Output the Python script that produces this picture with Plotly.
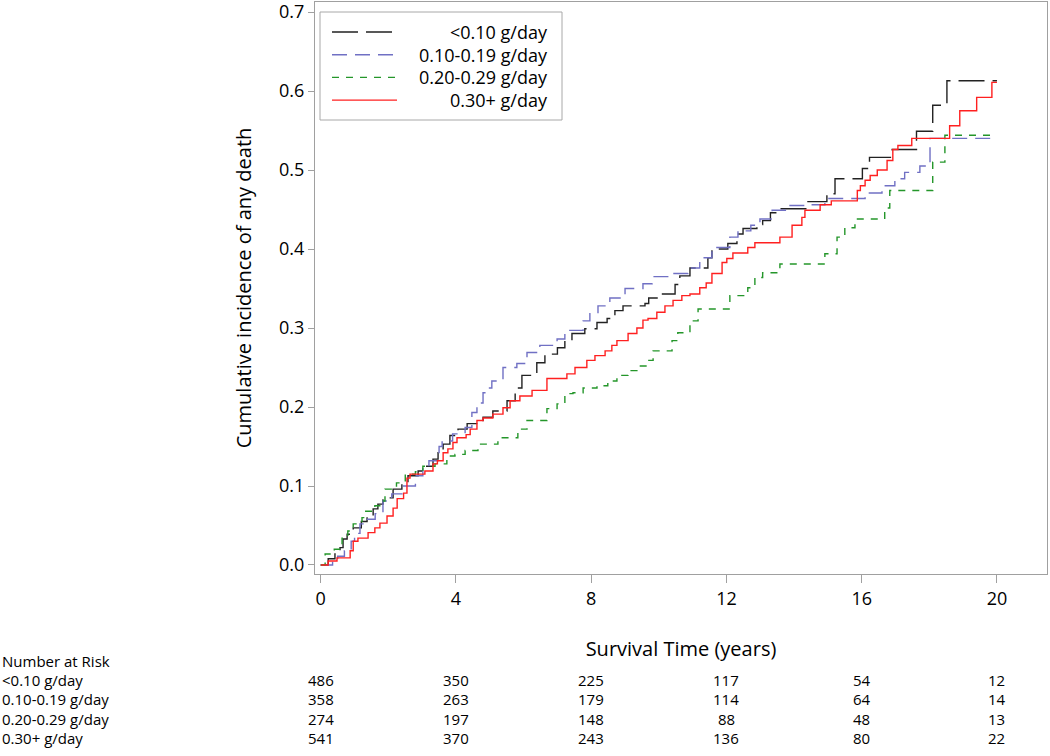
import plotly.graph_objects as go

# cumulative incidence step data (time in years, incidence)
groups = ["<0.10 g/day", "0.10-0.19 g/day", "0.20-0.29 g/day", "0.30+ g/day"]

t_lt010 = [0, 0.22, 0.42, 0.57, 0.66, 0.78, 0.96, 1.20, 1.37, 1.55, 1.69, 1.84, 2.14, 2.40, 2.58,
           2.88, 3.08, 3.32, 3.47, 3.62, 3.82, 4.06, 4.33, 4.80, 5.09, 5.51, 5.75, 5.95, 6.39, 6.63,
           7.00, 7.22, 7.43, 7.81, 8.17, 8.47, 8.70, 8.94, 9.59, 9.70, 9.97, 10.48, 10.62, 10.92,
           11.45, 11.57, 12.04, 12.31, 12.49, 12.90, 13.07, 13.30, 13.58, 14.41, 14.97, 15.21,
           16.02, 16.23, 16.90, 17.62, 18.10, 18.52, 20.0]
y_lt010 = [0, 0.008, 0.014, 0.022, 0.033, 0.039, 0.047, 0.055, 0.062, 0.071, 0.077, 0.085, 0.096,
           0.103, 0.113, 0.119, 0.125, 0.134, 0.142, 0.153, 0.164, 0.172, 0.179, 0.187, 0.195,
           0.208, 0.224, 0.240, 0.256, 0.267, 0.275, 0.284, 0.293, 0.299, 0.307, 0.312, 0.322,
           0.328, 0.331, 0.338, 0.343, 0.355, 0.366, 0.376, 0.389, 0.400, 0.407, 0.419, 0.426,
           0.431, 0.436, 0.446, 0.451, 0.460, 0.470, 0.489, 0.502, 0.516, 0.526, 0.549, 0.582,
           0.613, 0.613]

t_010 = [0, 0.35, 0.50, 0.70, 0.90, 1.00, 1.16, 1.35, 1.61, 1.84, 2.10, 2.40, 2.80, 3.02, 3.20,
         3.50, 3.59, 3.90, 4.27, 4.47, 4.62, 4.80, 4.95, 5.06, 5.39, 5.80, 6.10, 6.48, 6.99, 7.22,
         7.76, 7.96, 8.20, 8.55, 9.00, 9.53, 9.80, 10.33, 10.86, 11.21, 11.57, 12.10, 12.34,
         12.72, 12.99, 13.35, 13.79, 14.47, 14.91, 16.10, 16.60, 16.98, 17.27, 17.72, 18.02, 19.85]
y_010 = [0, 0.005, 0.011, 0.018, 0.030, 0.040, 0.052, 0.058, 0.065, 0.081, 0.090, 0.100, 0.113,
         0.125, 0.132, 0.150, 0.157, 0.166, 0.174, 0.193, 0.205, 0.218, 0.224, 0.233, 0.250,
         0.255, 0.269, 0.278, 0.286, 0.297, 0.309, 0.318, 0.328, 0.338, 0.350, 0.356, 0.365,
         0.369, 0.376, 0.389, 0.402, 0.415, 0.423, 0.430, 0.438, 0.449, 0.455, 0.456, 0.464,
         0.471, 0.480, 0.489, 0.497, 0.505, 0.540, 0.540]

t_020 = [0, 0.13, 0.40, 0.63, 0.80, 0.96, 1.22, 1.31, 1.60, 1.81, 1.90, 2.24, 2.50, 2.80, 3.02,
         3.38, 3.73, 3.97, 4.27, 4.65, 5.24, 5.83, 6.10, 6.69, 6.99, 7.22, 7.46, 7.76, 8.17,
         8.49, 8.76, 9.09, 9.35, 9.65, 9.83, 10.39, 10.56, 10.92, 11.16, 12.10, 12.63, 12.84,
         13.07, 13.58, 14.91, 15.27, 15.50, 15.80, 16.68, 16.83, 18.10, 18.46, 20.0]
y_020 = [0, 0.014, 0.020, 0.034, 0.043, 0.052, 0.060, 0.068, 0.075, 0.081, 0.096, 0.104, 0.115,
         0.118, 0.125, 0.128, 0.138, 0.140, 0.145, 0.153, 0.161, 0.172, 0.183, 0.198, 0.204,
         0.217, 0.218, 0.224, 0.227, 0.233, 0.240, 0.246, 0.252, 0.259, 0.271, 0.284, 0.294,
         0.309, 0.324, 0.341, 0.351, 0.364, 0.370, 0.381, 0.394, 0.415, 0.427, 0.438, 0.452,
         0.474, 0.510, 0.544, 0.544]

t_030 = [0, 0.22, 0.48, 0.87, 0.96, 1.10, 1.40, 1.60, 1.75, 1.96, 2.14, 2.26, 2.45, 2.55, 2.64,
         3.08, 3.32, 3.45, 3.62, 3.76, 3.91, 4.03, 4.30, 4.42, 4.62, 4.80, 5.09, 5.39, 5.60,
         5.89, 6.25, 6.69, 7.28, 7.52, 7.87, 8.11, 8.41, 8.61, 8.76, 9.09, 9.35, 9.53, 9.68,
         9.94, 10.18, 10.42, 10.68, 10.92, 11.21, 11.40, 11.57, 11.87, 12.01, 12.19, 12.63,
         12.84, 13.58, 13.94, 14.23, 14.32, 14.77, 15.10, 15.87, 15.96, 16.10, 16.25, 16.46,
         16.75, 16.92, 17.07, 17.48, 18.60, 18.90, 19.40, 19.85, 20.0]
y_030 = [0, 0.005, 0.009, 0.018, 0.030, 0.034, 0.041, 0.047, 0.053, 0.062, 0.072, 0.084, 0.091,
         0.110, 0.115, 0.119, 0.128, 0.132, 0.142, 0.147, 0.155, 0.161, 0.165, 0.172, 0.183,
         0.186, 0.191, 0.199, 0.208, 0.214, 0.221, 0.236, 0.242, 0.250, 0.259, 0.265, 0.271,
         0.278, 0.284, 0.293, 0.300, 0.310, 0.312, 0.320, 0.328, 0.335, 0.341, 0.343, 0.351,
         0.357, 0.369, 0.383, 0.388, 0.395, 0.402, 0.408, 0.415, 0.430, 0.440, 0.449, 0.456,
         0.461, 0.474, 0.480, 0.487, 0.493, 0.500, 0.512, 0.526, 0.531, 0.540, 0.556, 0.575,
         0.592, 0.611, 0.611]

# number at risk table
risk_times = [0, 4, 8, 12, 16, 20]
risk_lt010 = [486, 350, 225, 117, 54, 12]
risk_010 = [358, 263, 179, 114, 64, 14]
risk_020 = [274, 197, 148, 88, 48, 13]
risk_030 = [541, 370, 243, 136, 80, 22]

times = [t_lt010, t_010, t_020, t_030]
values = [y_lt010, y_010, y_020, y_030]
risks = [risk_lt010, risk_010, risk_020, risk_030]
colors = ["#222222", "#7070C4", "#24962A", "#FF2020"]
dashes = ["26px,8px", "15px,8px", "7px,7px", "solid"]

FONT = "Open Sans"
W, H = 1050, 756
L, R, T, B = 315, 3, 2, 182
PW, PH = W - L - R, H - T - B


def px(x):
    return (x - L) / PW


def py(y):
    return (H - B - y) / PH


fig = go.Figure()
for name, t, v, c, d in zip(groups, times, values, colors, dashes):
    fig.add_trace(go.Scatter(x=t, y=v, mode="lines", name=name, line_shape="hv",
                             line=dict(color=c, width=1.4, dash=d), showlegend=False))

# legend box (drawn by hand so text can be right aligned)
shapes = [dict(type="rect", xref="paper", yref="paper", x0=px(320), x1=px(562),
               y0=py(120), y1=py(12), line=dict(color="#A8A8A8", width=1))]
annotations = []
for i, (name, c, d) in enumerate(zip(groups, colors, dashes)):
    yy = py(32 + i * 22.7)
    shapes.append(dict(type="line", xref="paper", yref="paper", x0=px(332), x1=px(397),
                       y0=yy, y1=yy, line=dict(color=c, width=1.4, dash=d)))
    annotations.append(dict(text=name, xref="paper", yref="paper", x=px(550), y=yy,
                            xanchor="right", yanchor="middle", showarrow=False,
                            font=dict(size=18, color="#000")))

# number at risk
annotations.append(dict(text="Number at Risk", xref="paper", yref="paper", x=px(0), y=py(661),
                        xanchor="left", yanchor="middle", showarrow=False,
                        font=dict(size=15, color="#000")))
for i, (name, r) in enumerate(zip(groups, risks)):
    yy = py(680 + i * 19.3)
    annotations.append(dict(text=name, xref="paper", yref="paper", x=px(0), y=yy,
                            xanchor="left", yanchor="middle", showarrow=False,
                            font=dict(size=15, color="#000")))
    for tt, n in zip(risk_times, r):
        annotations.append(dict(text=str(n), xref="x", yref="paper", x=tt, y=yy,
                                xanchor="center", yanchor="middle", showarrow=False,
                                font=dict(size=15, color="#000")))

fig.update_layout(
    width=W, height=H,
    margin=dict(l=L, r=R, t=T, b=B),
    plot_bgcolor="white", paper_bgcolor="white",
    font=dict(family=FONT, color="#000"),
    shapes=shapes, annotations=annotations,
    xaxis=dict(range=[-0.17, 21.48], tickvals=risk_times, ticks="outside", ticklen=8,
               tickcolor="#A0A0A0", showline=True, linecolor="#A0A0A0", mirror=True,
               showgrid=False, zeroline=False, tickfont=dict(size=18), automargin=False,
               ticklabeloverflow="allow",
               title=dict(text="Survival Time (years)", font=dict(size=20), standoff=33)),
    yaxis=dict(range=[-0.0114, 0.7127], tickvals=[0, 0.1, 0.2, 0.3, 0.4, 0.5, 0.6, 0.7],
               tickformat=".1f", ticks="outside", ticklen=6, tickcolor="#A0A0A0",
               showline=True, linecolor="#A0A0A0", mirror=True, showgrid=False,
               zeroline=False, tickfont=dict(size=18), automargin=False,
               ticklabeloverflow="allow",
               title=dict(text="Cumulative incidence of any death", font=dict(size=20),
                          standoff=22)),
)

# page body has a default 8px margin; drop it so the figure sits at the window corner
fig.write_html("out.html", config={"displayModeBar": False},
               post_script="document.body.style.margin='0';")
